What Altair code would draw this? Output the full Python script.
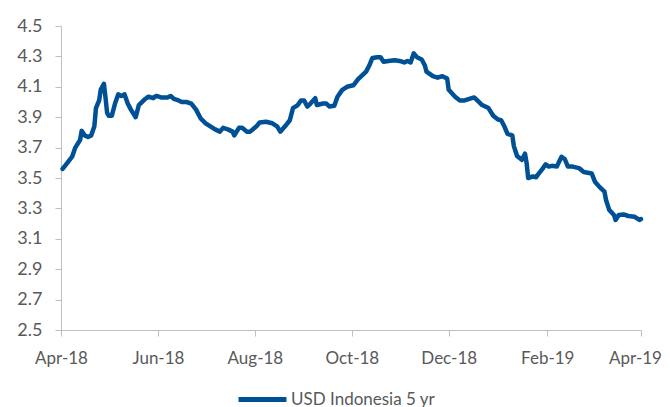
import altair as alt
import pandas as pd

series_name = "USD Indonesia 5 yr"

dates = [
    "2018-04-02", "2018-04-05", "2018-04-08", "2018-04-10", "2018-04-13", "2018-04-14",
    "2018-04-16", "2018-04-18", "2018-04-20", "2018-04-22", "2018-04-23", "2018-04-25",
    "2018-04-26", "2018-04-28", "2018-04-29", "2018-04-30", "2018-05-01", "2018-05-03",
    "2018-05-05", "2018-05-07", "2018-05-09", "2018-05-11", "2018-05-13", "2018-05-15",
    "2018-05-18", "2018-05-19", "2018-05-20", "2018-05-24", "2018-05-26", "2018-05-29",
    "2018-05-31", "2018-06-03", "2018-06-07", "2018-06-09", "2018-06-11", "2018-06-14",
    "2018-06-16", "2018-06-19", "2018-06-22", "2018-06-25", "2018-06-28", "2018-07-01",
    "2018-07-04", "2018-07-07", "2018-07-10", "2018-07-12", "2018-07-15", "2018-07-18",
    "2018-07-19", "2018-07-22", "2018-07-24", "2018-07-27", "2018-07-29", "2018-08-02",
    "2018-08-04", "2018-08-08", "2018-08-12", "2018-08-15", "2018-08-17", "2018-08-20",
    "2018-08-23", "2018-08-25", "2018-08-28", "2018-08-30", "2018-09-01", "2018-09-03",
    "2018-09-05", "2018-09-08", "2018-09-09", "2018-09-13", "2018-09-15", "2018-09-17",
    "2018-09-20", "2018-09-22", "2018-09-25", "2018-09-28", "2018-10-02", "2018-10-05",
    "2018-10-08", "2018-10-10", "2018-10-12", "2018-10-14", "2018-10-17", "2018-10-19",
    "2018-10-21", "2018-10-24", "2018-10-28", "2018-10-31", "2018-11-03", "2018-11-05",
    "2018-11-07", "2018-11-09", "2018-11-11", "2018-11-14", "2018-11-16", "2018-11-17",
    "2018-11-21", "2018-11-24", "2018-11-27", "2018-11-30", "2018-12-01", "2018-12-05",
    "2018-12-08", "2018-12-11", "2018-12-14", "2018-12-17", "2018-12-19", "2018-12-22",
    "2018-12-26", "2018-12-29", "2019-01-01", "2019-01-03", "2019-01-05", "2019-01-07",
    "2019-01-10", "2019-01-11", "2019-01-13", "2019-01-16", "2019-01-18", "2019-01-19",
    "2019-01-20", "2019-01-23", "2019-01-25", "2019-01-26", "2019-01-29", "2019-01-31",
    "2019-02-02", "2019-02-04", "2019-02-07", "2019-02-10", "2019-02-12", "2019-02-14",
    "2019-02-17", "2019-02-21", "2019-02-24", "2019-03-01", "2019-03-03", "2019-03-06",
    "2019-03-09", "2019-03-10", "2019-03-12", "2019-03-15", "2019-03-16", "2019-03-18",
    "2019-03-21", "2019-03-24", "2019-03-28", "2019-03-31", "2019-04-01",
]

values = [
    3.56, 3.60, 3.64, 3.70, 3.75, 3.81,
    3.78, 3.77, 3.78, 3.84, 3.96, 4.01,
    4.08, 4.12, 4.03, 3.93, 3.91, 3.91,
    3.99, 4.05, 4.04, 4.05, 3.99, 3.95,
    3.90, 3.94, 3.98, 4.02, 4.035, 4.025,
    4.04, 4.03, 4.03, 4.04, 4.02, 4.01,
    4.00, 4.00, 3.99, 3.95, 3.89, 3.86,
    3.84, 3.82, 3.805, 3.83, 3.82, 3.805,
    3.78, 3.83, 3.83, 3.805, 3.805, 3.84,
    3.865, 3.87, 3.86, 3.84, 3.805, 3.84,
    3.88, 3.96, 3.98, 4.01, 4.01, 3.97,
    3.99, 4.025, 3.98, 3.99, 3.99, 3.97,
    3.975, 4.035, 4.08, 4.10, 4.11, 4.15,
    4.18, 4.20, 4.24, 4.29, 4.295, 4.295,
    4.265, 4.27, 4.275, 4.27, 4.26, 4.27,
    4.26, 4.32, 4.295, 4.28, 4.24, 4.20,
    4.17, 4.16, 4.17, 4.155, 4.08, 4.035,
    4.01, 4.01, 4.02, 4.03, 4.01, 3.98,
    3.96, 3.91, 3.885, 3.88, 3.84, 3.79,
    3.78, 3.71, 3.645, 3.62, 3.66, 3.60,
    3.50, 3.51, 3.505, 3.52, 3.56, 3.59,
    3.575, 3.58, 3.575, 3.64, 3.625, 3.575,
    3.575, 3.565, 3.54, 3.53, 3.476, 3.44,
    3.41, 3.355, 3.29, 3.257, 3.224, 3.257,
    3.26, 3.25, 3.245, 3.224, 3.23,
]

y_ticks = [2.5, 2.7, 2.9, 3.1, 3.3, 3.5, 3.7, 3.9, 4.1, 4.3, 4.5]
x_tick_months = [(2018, 4), (2018, 6), (2018, 8), (2018, 10), (2018, 12), (2019, 2), (2019, 4)]

df = pd.DataFrame({"date": dates, "value": values, "series": series_name})

font = "Lato"
axis_gray = "#BFBFBF"
label_gray = "#595959"
line_color = "#005096"

x_values = [alt.DateTime(year=y, month=m, date=1, utc=True) for y, m in x_tick_months]

chart = (
    alt.Chart(df)
    .mark_line(strokeWidth=4.5, strokeJoin="round", strokeCap="round")
    .encode(
        x=alt.X(
            "date:T",
            scale=alt.Scale(
                type="utc",
                domain=[alt.DateTime(year=2018, month=4, date=1, utc=True),
                        alt.DateTime(year=2019, month=4, date=1, utc=True)],
            ),
            axis=alt.Axis(
                title=None,
                values=x_values,
                format="%b-%y",
                grid=False,
                domainColor=axis_gray,
                tickColor=axis_gray,
                tickSize=6,
                labelFont=font,
                labelFontSize=17,
                labelColor=label_gray,
                labelPadding=14,
                labelFlush=False,
                labelOverlap=False,
                labelOffset={"condition": {"test": "datum.value >= 1554000000000", "value": -6}, "value": 0},
            ),
        ),
        y=alt.Y(
            "value:Q",
            scale=alt.Scale(domain=[2.5, 4.5], nice=False, zero=False),
            axis=alt.Axis(
                title=None,
                values=y_ticks,
                format=".1f",
                grid=False,
                domainColor=axis_gray,
                tickColor=axis_gray,
                tickSize=6,
                labelFont=font,
                labelFontSize=18,
                labelColor=label_gray,
                labelPadding=13,
                labelOverlap=False,
            ),
        ),
        color=alt.Color(
            "series:N",
            scale=alt.Scale(range=[line_color]),
            legend=alt.Legend(
                title=None,
                orient="none",
                legendX=175,
                legendY=347,
                symbolType="stroke",
                symbolSize=2300,
                symbolStrokeWidth=5,
                labelFont=font,
                labelFontSize=17,
                labelColor=label_gray,
                labelOffset=2,
            ),
        ),
    )
    .properties(
        width=580,
        height=304,
        autosize=alt.AutoSizeParams(type="none"),
        padding={"left": 53, "top": 18, "right": 21, "bottom": 80},
    )
    .configure_view(stroke=None)
)

chart.save("out.html", embed_options={"renderer": "svg", "actions": False})
